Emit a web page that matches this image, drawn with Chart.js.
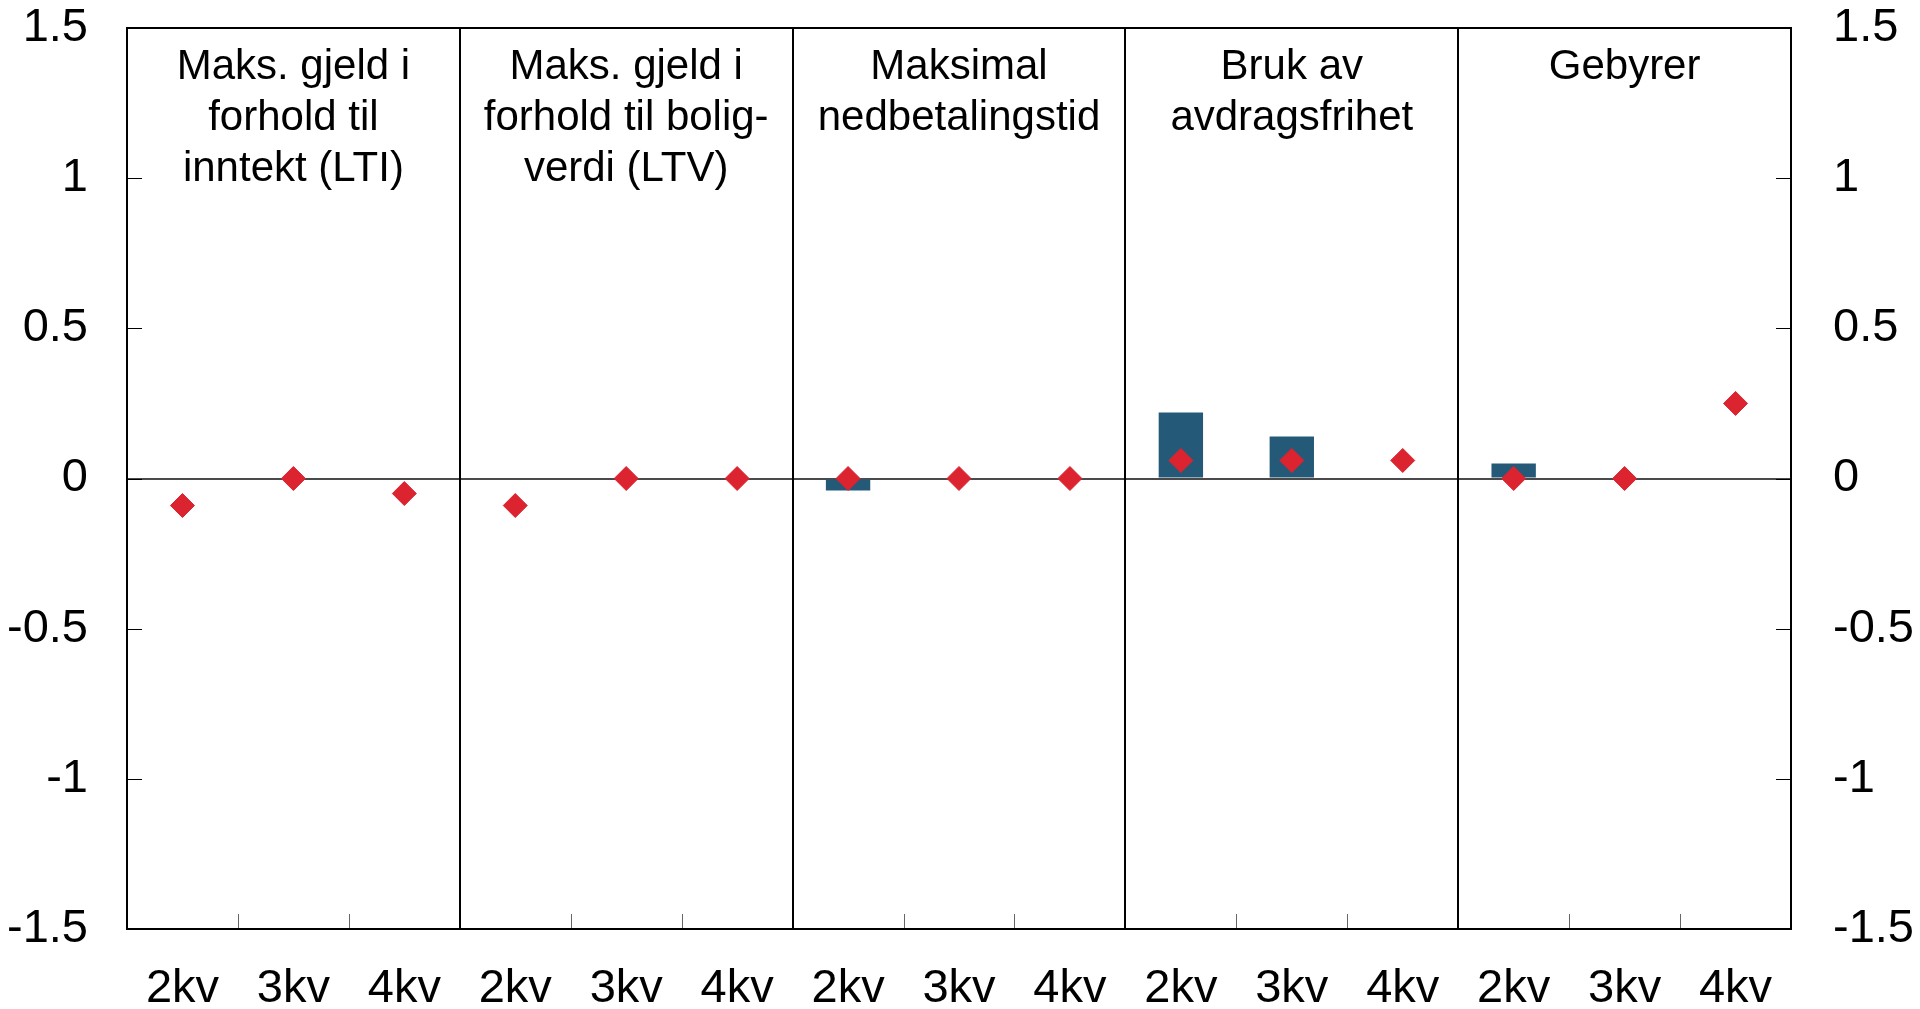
<!DOCTYPE html>
<html>
<head>
<meta charset="utf-8">
<script src="https://cdn.jsdelivr.net/npm/chart.js@4.4.0/dist/chart.umd.min.js"></script>
<style>
  html, body { margin: 0; padding: 0; background: #fff; }
  canvas { display: block; }
</style>
</head>
<body>
<canvas id="chart" width="1920" height="1009"></canvas>
<script>
const categories = ['2kv', '3kv', '4kv', '2kv', '3kv', '4kv', '2kv', '3kv', '4kv',
                    '2kv', '3kv', '4kv', '2kv', '3kv', '4kv'];
const barValues = [0, 0, 0, 0, 0, 0, -0.04, 0, 0, 0.22, 0.14, 0, 0.05, 0, 0];
const pointValues = [-0.09, 0, -0.05, -0.09, 0, 0, 0, 0, 0, 0.06, 0.06, 0.06, 0, 0, 0.25];
const groupTitles = [
  ['Maks. gjeld i', 'forhold til', 'inntekt (LTI)'],
  ['Maks. gjeld i', 'forhold til bolig-', 'verdi (LTV)'],
  ['Maksimal', 'nedbetalingstid'],
  ['Bruk av', 'avdragsfrihet'],
  ['Gebyrer']
];
const groupSize = 3;
const yTicks = [-1.5, -1, -0.5, 0, 0.5, 1, 1.5];

const FONT = '"Liberation Sans", Arial, sans-serif';

(function(){
  const ctx = document.getElementById('chart');

  // frame, separators, inside tick marks, panel titles
  const panelPlugin = {
    id: 'panels',
    afterDatasetsDraw(chart) {
      const c = chart.ctx;
      const area = chart.chartArea;
      const x = chart.scales.x;
      const y = chart.scales.y;
      c.save();

      // short tick marks at category boundaries
      c.strokeStyle = '#666';
      c.lineWidth = 1;
      for (let i = 1; i < categories.length; i++) {
        if (i % groupSize === 0) continue;
        const px = Math.round((x.getPixelForValue(i - 1) + x.getPixelForValue(i)) / 2) + 0.5;
        c.beginPath();
        c.moveTo(px, area.bottom);
        c.lineTo(px, area.bottom - 15);
        c.stroke();
      }

      // y tick marks inside, left and right
      c.strokeStyle = '#000';
      yTicks.forEach(function(v) {
        const py = Math.round(y.getPixelForValue(v)) + 0.5;
        c.beginPath();
        c.moveTo(area.left, py);
        c.lineTo(area.left + 15, py);
        c.moveTo(area.right, py);
        c.lineTo(area.right - 15, py);
        c.stroke();
      });

      // group separators
      c.lineWidth = 2;
      c.strokeStyle = '#000';
      for (let g = 1; g < groupTitles.length; g++) {
        const i = g * groupSize;
        const px = Math.round((x.getPixelForValue(i - 1) + x.getPixelForValue(i)) / 2);
        c.beginPath();
        c.moveTo(px, area.top);
        c.lineTo(px, area.bottom);
        c.stroke();
      }

      // frame
      c.lineWidth = 2;
      c.strokeRect(area.left, area.top, area.right - area.left, area.bottom - area.top);

      // titles
      c.fillStyle = '#000';
      c.font = '42px ' + FONT;
      c.textAlign = 'center';
      c.textBaseline = 'middle';
      groupTitles.forEach(function(lines, g) {
        const cx = x.getPixelForValue(g * groupSize + 1);
        lines.forEach(function(line, k) {
          c.fillText(line, cx, area.top + 39 + k * 51);
        });
      });
      c.restore();
    }
  };

  const tickFont = { family: FONT, size: 47 };

  function fixY(width) {
    return function(scale) {
      scale.width = width;
      scale.paddingTop = 0;
      scale.paddingBottom = 0;
    };
  }

  new Chart(ctx, {
    type: 'bar',
    data: {
      labels: categories,
      datasets: [{
        type: 'line',
        label: 'Endring',
        data: pointValues,
        showLine: false,
        pointStyle: 'rectRot',
        pointRadius: 12,
        pointHoverRadius: 12,
        pointBackgroundColor: '#dc2330',
        pointBorderColor: '#dc2330',
        pointBorderWidth: 1,
        order: 0
      }, {
        type: 'bar',
        label: 'Nivå',
        data: barValues,
        backgroundColor: '#245a78',
        borderWidth: 0,
        barPercentage: 0.4,
        categoryPercentage: 1,
        order: 1
      }]
    },
    options: {
      responsive: false,
      animation: false,
      layout: {
        padding: { top: 28, left: 0, right: 0, bottom: 0 }
      },
      plugins: {
        legend: { display: false },
        tooltip: { enabled: false }
      },
      scales: {
        x: {
          offset: true,
          grid: { display: false, drawTicks: false },
          border: { display: false },
          ticks: {
            font: tickFont,
            color: '#000',
            padding: 32,
            maxRotation: 0,
            autoSkip: false
          },
          afterFit: function(scale) {
            scale.height = 80;
            scale.paddingLeft = 0;
            scale.paddingRight = 0;
          }
        },
        y: {
          position: 'left',
          min: -1.5,
          max: 1.5,
          afterBuildTicks: function(scale) {
            scale.ticks = yTicks.map(function(v) { return { value: v }; });
          },
          grid: {
            drawTicks: false,
            color: function(c) { return c.tick && c.tick.value === 0 ? '#4a4a4a' : 'rgba(0,0,0,0)'; },
            lineWidth: 2
          },
          border: { display: false },
          ticks: {
            font: tickFont,
            color: '#000',
            padding: 39,
            callback: function(v) { return String(v); }
          },
          afterFit: fixY(127)
        },
        y2: {
          position: 'right',
          min: -1.5,
          max: 1.5,
          afterBuildTicks: function(scale) {
            scale.ticks = yTicks.map(function(v) { return { value: v }; });
          },
          grid: { display: false, drawTicks: false },
          border: { display: false },
          ticks: {
            font: tickFont,
            color: '#000',
            padding: 42,
            callback: function(v) { return String(v); }
          },
          afterFit: fixY(129)
        }
      }
    },
    plugins: [panelPlugin]
  });
})();
</script>
</body>
</html>
